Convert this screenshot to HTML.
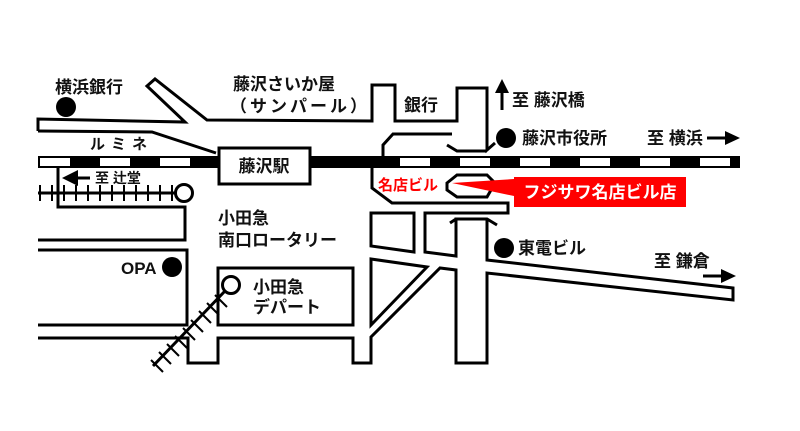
<!DOCTYPE html>
<html><head><meta charset="utf-8"><style>
html,body{margin:0;padding:0;background:#fff;}
svg{display:block;}
text{font-family:"Liberation Sans","Noto Sans CJK JP",sans-serif;font-weight:bold;font-size:17px;fill:#111;}
</style></head><body>
<svg width="800" height="431" viewBox="0 0 800 431" xmlns="http://www.w3.org/2000/svg">
<g fill="none" stroke="#000" stroke-width="3" stroke-linejoin="miter">
<polyline points="38,131 38,119 185,122 147,86 155,79 207,120 372,121 372,85 395,85 395,121 457,121 457,88 487,88 487,150 495,143"/>
<polyline points="38,131 152,132 216,153"/>
<polyline points="383,156 383,145 393,134 452,134"/>
<polyline points="447,145 457,151 487,151"/>
<polyline points="372,168 372,188 392,203 508,203 508,213 425,213 425,252 456,256 456,219 487,219 497,225"/>
<line x1="456" y1="219" x2="450" y2="223"/>
<polygon points="447,183 457,175 487,175 495,183 487,197 457,197 447,190" />
<polygon points="371,213 414,213 414,252 371,246"/>
<polygon points="371,259 427,267 371,325"/>
<polyline points="487,219 487,260 733,288 733,300 487,273 487,363 456,363 456,270 440,268 371,337 371,363 353,363 353,338 218,338 218,363 188,363 188,338 38,338"/>
<polyline points="38,325 187,325 187,250 38,250"/>
<polyline points="58,167 58,207 185,207 185,240 38,240"/>
<rect x="218" y="268" width="135" height="57"/>
<line x1="38" y1="193" x2="176" y2="193"/>
<circle cx="184" cy="193" r="8.5" fill="#fff"/>
<line x1="225" y1="291" x2="153" y2="366"/>
<circle cx="231" cy="285" r="8.5" fill="#fff"/>
</g>
<g stroke="#000" stroke-width="2">
<line x1="40" y1="185" x2="40" y2="201"/><line x1="52" y1="185" x2="52" y2="201"/><line x1="64" y1="185" x2="64" y2="201"/><line x1="76" y1="185" x2="76" y2="201"/><line x1="88" y1="185" x2="88" y2="201"/><line x1="100" y1="185" x2="100" y2="201"/><line x1="112" y1="185" x2="112" y2="201"/><line x1="124" y1="185" x2="124" y2="201"/><line x1="136" y1="185" x2="136" y2="201"/><line x1="148" y1="185" x2="148" y2="201"/><line x1="160" y1="185" x2="160" y2="201"/><line x1="172" y1="185" x2="172" y2="201"/>
<line x1="215" y1="295" x2="227" y2="307"/><line x1="207" y1="303" x2="219" y2="315"/><line x1="199" y1="311" x2="211" y2="323"/><line x1="191" y1="320" x2="203" y2="332"/><line x1="183" y1="328" x2="195" y2="340"/><line x1="175" y1="336" x2="187" y2="348"/><line x1="167" y1="344" x2="179" y2="356"/><line x1="159" y1="352" x2="171" y2="364"/><line x1="151" y1="360" x2="163" y2="372"/>
</g>
<rect x="38" y="156" width="702" height="12" fill="#000"/>
<g fill="#fff">
<rect x="40" y="158" width="30" height="8"/><rect x="100" y="158" width="30" height="8"/><rect x="160" y="158" width="30" height="8"/><rect x="400" y="158" width="30" height="8"/><rect x="460" y="158" width="30" height="8"/><rect x="520" y="158" width="30" height="8"/><rect x="580" y="158" width="30" height="8"/><rect x="640" y="158" width="30" height="8"/><rect x="700" y="158" width="30" height="8"/>
</g>
<rect x="219" y="148" width="91" height="36" fill="#fff" stroke="#000" stroke-width="3"/>
<g fill="#000">
<circle cx="66" cy="107" r="10"/><circle cx="506" cy="138" r="10"/><circle cx="504" cy="248" r="10"/><circle cx="172" cy="267" r="10"/>
</g>
<g stroke="#000" stroke-width="3" fill="#000">
<line x1="78" y1="178" x2="90" y2="178"/><polygon points="62,178 78,170 78,186" stroke="none"/>
<line x1="502" y1="110" x2="502" y2="92"/><polygon points="502,79 495,93 509,93" stroke="none"/>
<line x1="707" y1="138" x2="726" y2="138"/><polygon points="740,138 725,131 725,145" stroke="none"/>
<line x1="703" y1="276" x2="722" y2="276"/><polygon points="736,276 721,269 721,283" stroke="none"/>
</g>
<polygon points="452,183 514,179 514,196" fill="#f00"/>
<rect x="514" y="177" width="172" height="30" fill="#f00"/>
<text x="600" y="198" text-anchor="middle" style="fill:#fff;font-size:17px">フジサワ名店ビル店</text>
<text x="378" y="190" style="fill:#f00;font-size:15px">名店ビル</text>
<text x="55" y="93">横浜銀行</text>
<text x="233" y="90">藤沢さいか屋</text>
<text x="230" y="112" style="letter-spacing:3px">（サンパール）</text>
<text x="90" y="149" style="font-size:15px;letter-spacing:6px">ルミネ</text>
<text x="404" y="111">銀行</text>
<text x="264" y="172" text-anchor="middle">藤沢駅</text>
<text x="95" y="183" style="font-size:14px">至 辻堂</text>
<text x="512" y="106">至 藤沢橋</text>
<text x="522" y="144">藤沢市役所</text>
<text x="647" y="144">至 横浜</text>
<text x="518" y="254">東電ビル</text>
<text x="654" y="267">至 鎌倉</text>
<text x="218" y="224">小田急</text>
<text x="218" y="246">南口ロータリー</text>
<text x="121" y="274">OPA</text>
<text x="253" y="293">小田急</text>
<text x="253" y="313">デパート</text>
</svg>
</body></html>
